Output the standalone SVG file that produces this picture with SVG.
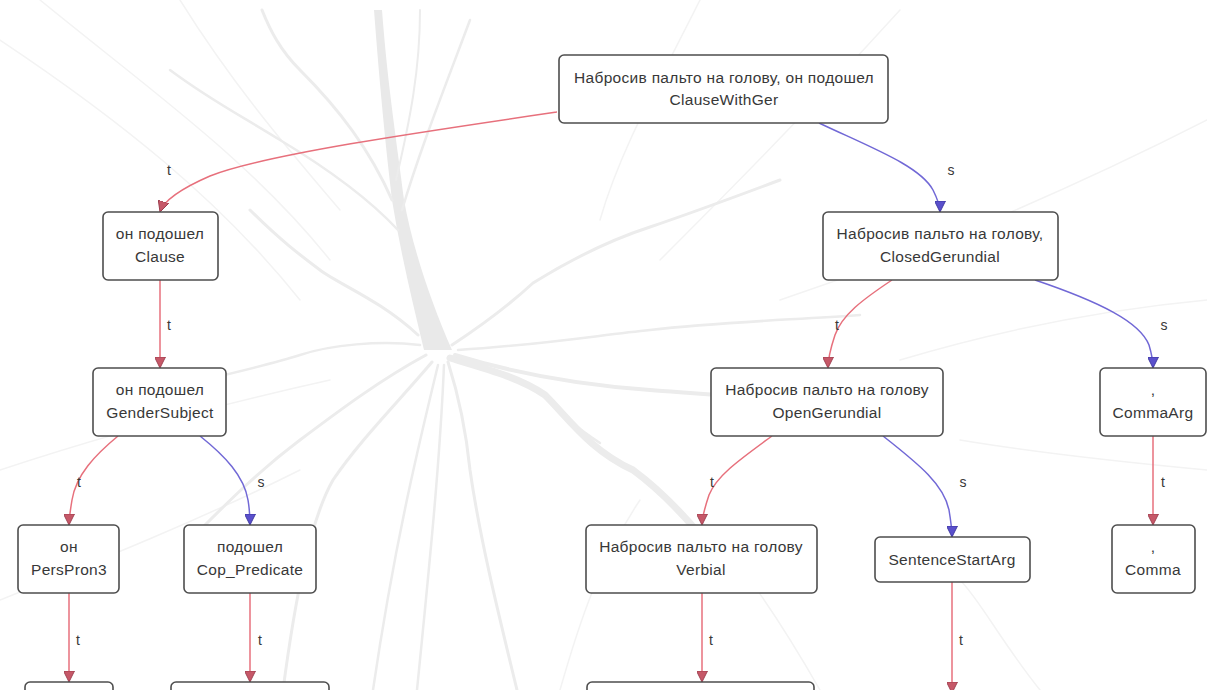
<svg xmlns="http://www.w3.org/2000/svg" width="1207" height="690" viewBox="0 0 1207 690">
  <defs>
    <marker id="arrow-t" viewBox="0 0 10 10" refX="10" refY="5" markerWidth="11" markerHeight="11" markerUnits="userSpaceOnUse" orient="auto">
      <path d="M0,0 L10,5 L0,10 z" fill="#c65868" stroke="#9a3c4c" stroke-width="0.8"/>
    </marker>
    <marker id="arrow-s" viewBox="0 0 10 10" refX="10" refY="5" markerWidth="11" markerHeight="11" markerUnits="userSpaceOnUse" orient="auto">
      <path d="M0,0 L10,5 L0,10 z" fill="#5a50cc" stroke="#3a329c" stroke-width="0.8"/>
    </marker>
  </defs>
  <style>
    .node rect { fill: #ffffff; stroke: #4e4e4e; stroke-width: 1.6; }
    .node text, .label { font-family: "Liberation Sans", Arial, sans-serif; font-size: 15.5px; fill: #383838; text-anchor: middle; letter-spacing: 0.3px; }
    .label { font-size: 14px; letter-spacing: 0; }
    .edge { fill: none; stroke-width: 1.5; }
    .edge.t { stroke: #e7707c; marker-end: url(#arrow-t); }
    .edge.s { stroke: #7168d6; marker-end: url(#arrow-s); }
    .bg path { fill: none; stroke: #ececec; stroke-linecap: round; }
    .bg .faint { stroke: #f3f3f3; stroke-width: 1.5; }
    .bg .trunk { fill: #e9e9e9; stroke: none; }
  </style>

  <rect width="1207" height="690" fill="#ffffff"/>

  <!-- faint tree drawing in the background -->
  <g class="bg" id="backdrop">
    <path class="faint" d="M 0 40 C 120 120, 220 200, 300 300"/>
    <path class="faint" d="M 40 0 C 150 90, 250 160, 330 260"/>
    <path class="faint" d="M 180 0 C 230 80, 280 140, 340 210"/>
    <path class="faint" d="M 0 470 C 120 430, 240 400, 330 380"/>
    <path class="faint" d="M 0 600 C 100 560, 200 520, 300 470"/>
    <path class="faint" d="M 700 0 C 660 80, 620 150, 600 220"/>
    <path class="faint" d="M 900 10 C 800 120, 720 200, 660 260"/>
    <path class="faint" d="M 1207 120 C 1050 200, 900 260, 780 300"/>
    <path class="faint" d="M 1207 300 C 1100 310, 1000 330, 900 360"/>
    <path class="faint" d="M 1207 470 C 1100 460, 1020 450, 960 440"/>
    <path class="faint" d="M 560 690 C 580 620, 600 560, 640 500"/>
    <path class="faint" d="M 820 690 C 780 620, 740 560, 700 520"/>
    <path class="faint" d="M 1040 690 C 1000 640, 980 600, 960 580"/>
    <!-- trunk -->
    <path class="trunk" d="M 424 350 C 412 300, 400 250, 392 200 C 386 150, 380 90, 374 10 L 382 10 C 388 90, 398 150, 404 200 C 412 245, 430 300, 452 350 Z"/>
    <path d="M 392 200 C 370 150, 340 110, 300 70 C 280 50, 270 30, 262 10" stroke-width="3"/>
    <path d="M 398 230 C 370 200, 330 170, 280 140 C 240 115, 210 100, 170 70" stroke-width="2.5"/>
    <path d="M 402 210 C 420 150, 440 100, 470 20" stroke-width="2.5"/>
    <path d="M 396 180 C 410 120, 420 70, 420 10" stroke-width="2"/>
    <path d="M 418 335 C 380 300, 340 285, 320 270 C 300 255, 280 240, 250 210" stroke-width="3"/>
    <path d="M 420 345 C 380 340, 330 345, 300 355 C 260 368, 200 380, 120 400" stroke-width="2.5"/>
    <path d="M 426 355 C 380 380, 340 410, 300 440 C 260 470, 230 500, 200 530" stroke-width="3"/>
    <path d="M 432 362 C 400 400, 360 440, 333 480 C 310 520, 295 600, 283 690" stroke-width="3"/>
    <path d="M 438 365 C 420 440, 395 540, 373 690" stroke-width="2.5"/>
    <path d="M 444 365 C 440 460, 430 560, 417 690" stroke-width="2.5"/>
    <path d="M 448 362 C 460 400, 467 440, 470 470 C 480 540, 500 620, 517 690" stroke-width="3"/>
    <path d="M 450 358 C 490 370, 520 378, 545 395 C 570 420, 590 450, 633 470 C 660 490, 690 520, 720 560" stroke-width="7"/>
    <path d="M 455 355 C 520 375, 580 385, 650 390 C 720 395, 780 400, 830 400" stroke-width="4"/>
    <path d="M 458 350 C 540 345, 600 335, 650 330 C 720 322, 790 320, 860 315" stroke-width="2.5"/>
    <path d="M 452 345 C 490 320, 520 295, 533 283 C 570 260, 610 240, 650 227 C 700 210, 740 195, 780 180" stroke-width="3"/>
    <path d="M 545 395 C 560 415, 580 430, 600 443" stroke-width="2.5"/>
  </g>

  <!-- connectors -->
  <g id="connectors">
    <path class="edge t" d="M 557 112 C 420 132, 262 155, 210 176 C 180 189, 164 200, 160 212"/>
    <path class="edge s" d="M 819 123 C 872 148, 920 166, 933 190 C 938 200, 940 206, 940 212"/>
    <path class="edge t" d="M 160 280 L 160 368"/>
    <path class="edge t" d="M 118 436 C 95 455, 76 475, 72 500 C 70 512, 69 518, 69 525"/>
    <path class="edge s" d="M 200 436 C 225 456, 244 476, 248 500 C 250 512, 250 518, 250 525"/>
    <path class="edge t" d="M 892 280 C 862 300, 842 315, 835 335 C 830 350, 828 358, 828 368"/>
    <path class="edge s" d="M 1035 280 C 1100 302, 1140 322, 1149 345 C 1152 355, 1153 360, 1153 368"/>
    <path class="edge t" d="M 772 436 C 742 458, 717 475, 709 495 C 704 510, 702 517, 702 525"/>
    <path class="edge s" d="M 883 436 C 920 465, 944 485, 949 510 C 951 522, 952 530, 952 537"/>
    <path class="edge t" d="M 1153 436 L 1153 525"/>
    <path class="edge t" d="M 69 593 L 69 682"/>
    <path class="edge t" d="M 250 593 L 250 682"/>
    <path class="edge t" d="M 702 593 L 702 682"/>
    <path class="edge t" d="M 952 582 L 952 693"/>
    <text class="label" x="169" y="175">t</text>
    <text class="label" x="951" y="175">s</text>
    <text class="label" x="169" y="330">t</text>
    <text class="label" x="837" y="330">t</text>
    <text class="label" x="1164" y="330">s</text>
    <text class="label" x="79" y="487">t</text>
    <text class="label" x="261" y="487">s</text>
    <text class="label" x="712" y="487">t</text>
    <text class="label" x="963" y="487">s</text>
    <text class="label" x="1163" y="487">t</text>
    <text class="label" x="78" y="645">t</text>
    <text class="label" x="260" y="645">t</text>
    <text class="label" x="711" y="645">t</text>
    <text class="label" x="961" y="645">t</text>
  </g>

  <!-- nodes -->
  <g id="clause-with-ger" class="node">
    <rect x="559" y="55" width="329" height="68" rx="5"/>
    <text x="724" y="83">Набросив пальто на голову, он подошел</text>
    <text x="724" y="105">ClauseWithGer</text>
  </g>
  <g id="clause" class="node">
    <rect x="103" y="212" width="115" height="68" rx="5"/>
    <text x="160" y="239">он подошел</text>
    <text x="160" y="262">Clause</text>
  </g>
  <g id="closed-gerundial" class="node">
    <rect x="823" y="212" width="235" height="68" rx="5"/>
    <text x="940" y="239">Набросив пальто на голову,</text>
    <text x="940" y="262">ClosedGerundial</text>
  </g>
  <g id="gender-subject" class="node">
    <rect x="93" y="368" width="133" height="68" rx="5"/>
    <text x="160" y="395">он подошел</text>
    <text x="160" y="418">GenderSubject</text>
  </g>
  <g id="open-gerundial" class="node">
    <rect x="711" y="368" width="232" height="68" rx="5"/>
    <text x="827" y="395">Набросив пальто на голову</text>
    <text x="827" y="418">OpenGerundial</text>
  </g>
  <g id="comma-arg" class="node">
    <rect x="1100" y="368" width="106" height="68" rx="5"/>
    <text x="1153" y="395">,</text>
    <text x="1153" y="418">CommaArg</text>
  </g>
  <g id="pers-pron3" class="node">
    <rect x="18" y="525" width="101" height="68" rx="5"/>
    <text x="69" y="552">он</text>
    <text x="69" y="575">PersPron3</text>
  </g>
  <g id="cop-predicate" class="node">
    <rect x="184" y="525" width="132" height="68" rx="5"/>
    <text x="250" y="552">подошел</text>
    <text x="250" y="575">Cop_Predicate</text>
  </g>
  <g id="verbial" class="node">
    <rect x="586" y="525" width="231" height="68" rx="5"/>
    <text x="701" y="552">Набросив пальто на голову</text>
    <text x="701" y="575">Verbial</text>
  </g>
  <g id="sentence-start-arg" class="node">
    <rect x="875" y="537" width="155" height="45" rx="5"/>
    <text x="952" y="565">SentenceStartArg</text>
  </g>
  <g id="comma" class="node">
    <rect x="1112" y="525" width="83" height="68" rx="5"/>
    <text x="1153" y="552">,</text>
    <text x="1153" y="575">Comma</text>
  </g>
  <g id="child-1" class="node">
    <rect x="25" y="682" width="88" height="60" rx="5"/>
  </g>
  <g id="child-2" class="node">
    <rect x="171" y="682" width="158" height="60" rx="5"/>
  </g>
  <g id="child-3" class="node">
    <rect x="587" y="682" width="227" height="60" rx="5"/>
  </g>
</svg>
